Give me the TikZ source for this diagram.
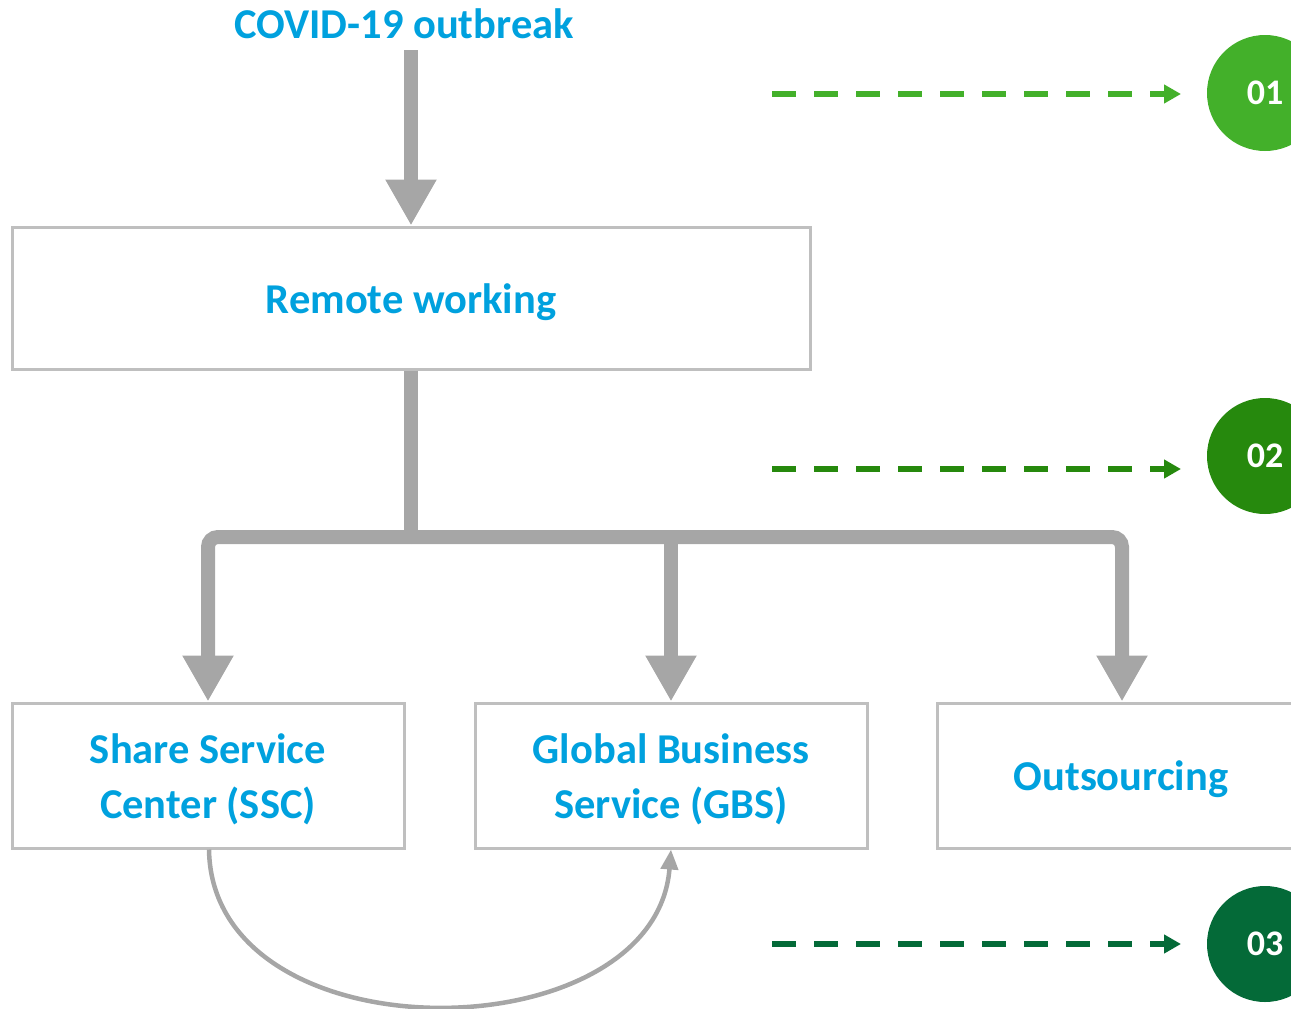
\documentclass[tikz,border=0pt]{standalone}
\usepackage{fontspec}
\setmainfont{Carlito}
\usetikzlibrary{arrows.meta}
\definecolor{txtblue}{RGB}{0,161,222}
\definecolor{arrgray}{RGB}{166,166,166}
\definecolor{boxgray}{RGB}{191,191,191}
\definecolor{gA}{RGB}{67,176,42}
\definecolor{gB}{RGB}{38,137,13}
\definecolor{gC}{RGB}{4,106,56}
\tikzset{
  lbl/.style={font=\fontsize{42.5}{55}\selectfont\bfseries, text=txtblue, align=center},
  box/.style={draw=boxgray, line width=3pt, fill=white, minimum height=145pt, inner sep=0pt},
  fat/.style={draw=arrgray, line width=14pt, -{Triangle[width=48pt,length=46pt]}},
  fatline/.style={draw=arrgray, line width=14pt},
  dasharrow/.style={line width=5.5pt, dash pattern=on 24pt off 18pt, -{Triangle[width=18pt,length=17pt]}},
  badge/.style={circle, minimum size=116pt, inner sep=0pt, text=white, font=\fontsize{36}{40}\selectfont\bfseries},
}
\begin{document}
\begin{tikzpicture}[x=1pt,y=-1pt]
\useasboundingbox (0,0) rectangle (1291,1009);
\node[lbl] (covid) at (404,24) {COVID-19 outbreak};
\node[box, minimum width=798pt, minimum height=142pt] (remote) at (411,298) {};
\node[lbl] at ([yshift=-4pt]remote.center) {Remote working};
\node[box, minimum width=392pt] (ssc) at (208,775.5) {};
\node[lbl] at ([yshift=-4pt]ssc.center) {Share Service\\Center (SSC)};
\node[box, minimum width=392pt] (gbs) at (671,775.5) {};
\node[lbl] at ([yshift=-4pt]gbs.center) {Global Business\\Service (GBS)};
\node[box, minimum width=370pt] (out) at (1122,775.5) {};
\node[lbl] at (1121,779) {Outsourcing};
% arrows
\coordinate (covbot) at (411,50);
\draw[fat] (covbot) -- (remote.north);
\coordinate (junc) at (411,537);
\draw[fatline] (remote.south) -- ([yshift=7pt]junc);
\draw[fat, rounded corners=10pt] (junc) -| (ssc.north);
\draw[fat, rounded corners=10pt] (junc) -| (out.north);
\draw[fat] (gbs.north |- junc) -- (gbs.north);
% curve
\draw[arrgray, line width=4.5pt, -{Triangle[width=17pt,length=20pt]}] ([xshift=1pt]ssc.south) .. controls (212,1060) and (655,1055) .. (gbs.south);
% badges
\node[badge, fill=gA] (c1) at (1265,93) {01};
\node[badge, fill=gB] (c2) at (1265,456) {02};
\node[badge, fill=gC] (c3) at (1265,944) {03};
\coordinate (d1) at (772,94);
\coordinate (d2) at (772,469);
\coordinate (d3) at (772,944);
\draw[dasharrow, gA] (d1) -- (1181,94);
\draw[dasharrow, gB] (d2) -- (1181,469);
\draw[dasharrow, gC] (d3) -- (1181,944);
\end{tikzpicture}
\end{document}
